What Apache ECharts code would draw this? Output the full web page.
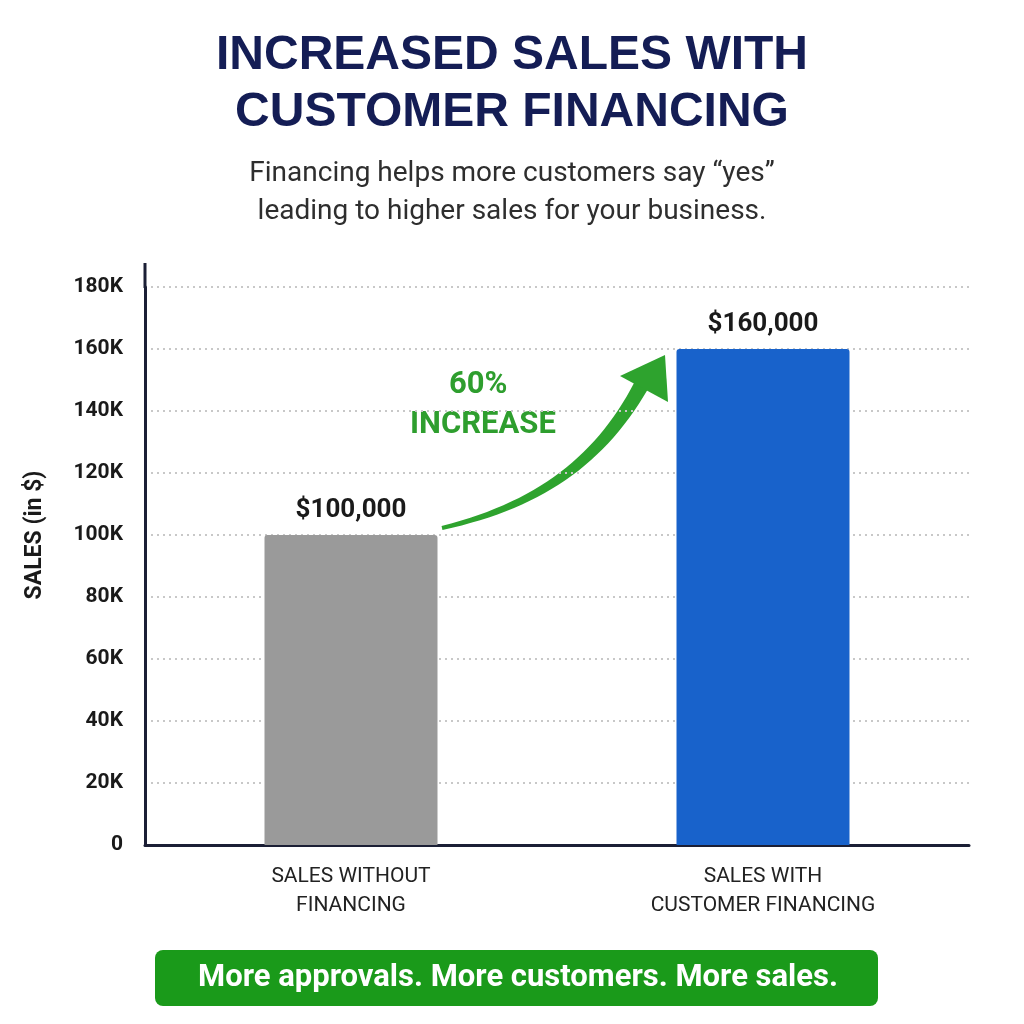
<!DOCTYPE html>
<html>
<head>
<meta charset="utf-8">
<script src="https://cdn.jsdelivr.net/npm/echarts@6/dist/echarts.min.js"></script>
<style>
html, body { margin: 0; padding: 0; background: #fff; }
#main { width: 1024px; height: 1024px; }
</style>
</head>
<body>
<div id="main"></div>
<script>
// data
var categories = ['SALES WITHOUT\nFINANCING', 'SALES WITH\nCUSTOMER FINANCING'];
var salesValues = [100000, 160000];
var barColors = ['#9a9a9a', '#1862cb'];
var valueLabels = ['$100,000', '$160,000'];
var yMax = 180000;
var yStep = 20000;

var myChart = echarts.init(document.getElementById('main'));

var barData = [];
for (var i = 0; i < salesValues.length; i++) {
    barData.push({
        value: salesValues[i],
        itemStyle: { color: barColors[i], borderRadius: [3, 3, 0, 0] },
        label: { formatter: valueLabels[i] }
    });
}

// tapered curved arrow shaft (thin tail, thicker near the head)
function arrowShaft(p0, p1, p2, p3, w0, w1) {
    var left = [], right = [];
    var n = 30;
    for (var k = 0; k <= n; k++) {
        var t = k / n, u = 1 - t;
        var x = u*u*u*p0[0] + 3*u*u*t*p1[0] + 3*u*t*t*p2[0] + t*t*t*p3[0];
        var y = u*u*u*p0[1] + 3*u*u*t*p1[1] + 3*u*t*t*p2[1] + t*t*t*p3[1];
        var dx = 3*u*u*(p1[0]-p0[0]) + 6*u*t*(p2[0]-p1[0]) + 3*t*t*(p3[0]-p2[0]);
        var dy = 3*u*u*(p1[1]-p0[1]) + 6*u*t*(p2[1]-p1[1]) + 3*t*t*(p3[1]-p2[1]);
        var len = Math.sqrt(dx*dx + dy*dy);
        var w = (w0 + (w1 - w0) * t) / 2;
        left.push([x - dy/len*w, y + dx/len*w]);
        right.unshift([x + dy/len*w, y - dx/len*w]);
    }
    return left.concat(right);
}

var option = {
    backgroundColor: '#ffffff',
    textStyle: { fontFamily: 'Roboto, "Liberation Sans", sans-serif' },
    title: [{
        text: 'INCREASED SALES WITH\nCUSTOMER FINANCING',
        left: 'center',
        top: 22,
        padding: [5, 5, 5, 25],
        textStyle: {
            fontFamily: '"Liberation Sans", Arial, sans-serif',
            fontWeight: 'bold',
            fontSize: 48,
            lineHeight: 57,
            align: 'center',
            color: '#141d55'
        }
    }, {
        text: 'Financing helps more customers say \u201cyes\u201d\nleading to higher sales for your business.',
        left: 'center',
        top: 150,
        padding: [5, 5, 5, 20],
        textStyle: {
            fontFamily: 'Roboto, sans-serif',
            fontWeight: 'normal',
            fontSize: 28,
            lineHeight: 38,
            align: 'center',
            color: '#2e2e2e'
        }
    }],
    grid: { left: 145, right: 55, top: 287, bottom: 179, containLabel: false },
    xAxis: {
        type: 'category',
        data: categories,
        axisLine: { lineStyle: { color: '#1b1f35', width: 3 } },
        axisTick: { show: false },
        axisLabel: {
            margin: 17,
            fontSize: 21,
            lineHeight: 29,
            color: '#222',
            fontFamily: 'Roboto, sans-serif'
        }
    },
    yAxis: {
        type: 'value',
        min: 0,
        max: yMax,
        interval: yStep,
        axisLine: { show: true, lineStyle: { color: '#1b1f35', width: 3 } },
        axisTick: { show: false },
        axisLabel: {
            margin: 22,
            fontSize: 21,
            fontWeight: 'bold',
            color: '#1a1a1a',
            formatter: function (v) { return v === 0 ? '0' : (v / 1000) + 'K'; }
        },
        splitLine: { lineStyle: { color: '#c8c8c8', type: [2, 4], width: 2 } }
    },
    series: [{
        type: 'bar',
        data: barData,
        barWidth: 173,
        label: {
            show: true,
            position: 'top',
            distance: 12,
            fontSize: 26,
            fontWeight: 'bold',
            color: '#1a1a1a'
        }
    }],
    graphic: [
        // y axis extends a bit above the top tick
        { type: 'line', shape: { x1: 145, y1: 263, x2: 145, y2: 288 }, style: { stroke: '#1b1f35', lineWidth: 3 } },
        // y axis title
        {
            type: 'text', x: 35, y: 535, rotation: Math.PI / 2,
            style: {
                text: 'SALES (in $)',
                font: 'bold 23px Roboto, sans-serif',
                fill: '#1a1a1a',
                textAlign: 'center',
                textVerticalAlign: 'middle'
            }
        },
        // green growth arrow: curved tapered shaft + head
        {
            type: 'polygon',
            shape: { points: arrowShaft([442, 528], [540, 505], [600, 460], [641, 386], 4, 15) },
            style: { fill: '#2ea32e' }
        },
        {
            type: 'polygon',
            shape: { points: [[620, 376], [665, 355], [668, 402]] },
            style: { fill: '#2ea32e' }
        },
        {
            type: 'text', left: 449, top: 370,
            style: { text: '60%', font: 'bold 31px Roboto, sans-serif', fill: '#2e9e2e' }
        },
        {
            type: 'text', left: 410, top: 410,
            style: { text: 'INCREASE', font: 'bold 31px Roboto, sans-serif', fill: '#2e9e2e' }
        },
        // bottom banner
        {
            type: 'rect', shape: { x: 155, y: 950, width: 723, height: 56, r: 8 },
            style: { fill: '#1a9a1a' }
        },
        {
            type: 'text', x: 518, y: 978,
            style: {
                text: 'More approvals. More customers. More sales.',
                font: 'bold 31px Roboto, sans-serif',
                fill: '#ffffff',
                textAlign: 'center',
                textVerticalAlign: 'middle'
            }
        }
    ]
};

myChart.setOption(option);
</script>
</body>
</html>
